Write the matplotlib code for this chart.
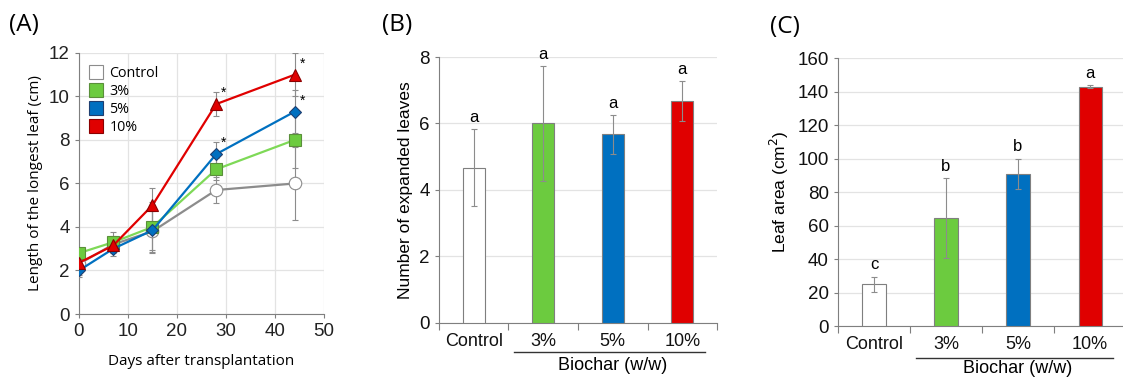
import matplotlib
matplotlib.use("Agg")
import matplotlib.pyplot as plt
from matplotlib.lines import Line2D
import numpy as np

# ---------------- data ----------------
days = [0, 7, 15, 28, 44]
series_names = ["Control", "3%", "5%", "10%"]
len_control = [2.3, 3.2, 3.8, 5.7, 6.0]
len_3 = [2.8, 3.3, 4.0, 6.65, 8.0]
len_5 = [2.0, 3.0, 3.85, 7.35, 9.3]
len_10 = [2.35, 3.15, 5.0, 9.65, 11.0]
err_control = [0.5, 0.4, 1.0, 0.6, 1.7]
err_3 = [0.2, 0.45, 1.15, 0.5, 1.3]
err_5 = [0.3, 0.35, 0.9, 0.55, 1.0]
err_10 = [0.2, 0.3, 0.8, 0.55, 1.0]
star_days = [28, 44, 28, 44]
star_vals = [9.65, 11.0, 7.35, 9.3]

categories = ["Control", "3%", "5%", "10%"]
leaves = [4.67, 6.0, 5.67, 6.67]
leaves_err = [1.15, 1.73, 0.6, 0.6]
leaves_letters = ["a", "a", "a", "a"]

area = [25.0, 64.5, 91.0, 142.8]
area_err = [4.5, 24.0, 9.0, 0.8]
area_letters = ["c", "b", "b", "a"]

# ---------------- styles ----------------
C_GREEN = "#6CCB3F"
C_BLUE = "#0070C0"
C_RED = "#E00000"
C_GRAY = "#8C8C8C"
bar_colors = ["white", C_GREEN, C_BLUE, C_RED]
SPINE = "#7F7F7F"
GRID = "#E3E3E3"
ARIAL = ["Liberation Sans", "DejaVu Sans"]
CAL = ["Open Sans", "DejaVu Sans"]

fig = plt.figure(figsize=(11.23, 3.79), dpi=100)

# ================= Panel A =================
axA = fig.add_axes([0.0703, 0.1715, 0.2182, 0.6887])
line_specs = [
    (len_control, err_control, C_GRAY, "o", "white", "#8C8C8C", 9),
    (len_3, err_3, "#7ED957", "s", C_GREEN, "#5A8F3A", 8.5),
    (len_5, err_5, C_BLUE, "D", C_BLUE, "#1F3F70", 6.5),
    (len_10, err_10, C_RED, "^", C_RED, "#8B0000", 8.5),
]
for vals, errs, lc, mk, mfc, mec, ms in line_specs:
    axA.errorbar(days, vals, yerr=errs, color=lc, lw=1.6, marker=mk, ms=ms,
                 mfc=mfc, mec=mec, mew=0.8, ecolor="#8C8C8C", elinewidth=0.8,
                 capsize=2, capthick=0.8, zorder=3)
for d, v in zip(star_days, star_vals):
    axA.text(d + 1.6, v + 0.2, "*", fontsize=10, ha="center", va="bottom",
             family=ARIAL, color="black")
axA.set_xlim(0, 50)
axA.set_ylim(0, 12)
axA.set_xticks(range(0, 51, 10))
axA.set_yticks(range(0, 13, 2))
axA.grid(True, color=GRID, lw=0.9)
axA.set_axisbelow(True)
for s in ["top", "right"]:
    axA.spines[s].set_visible(False)
for s in ["left", "bottom"]:
    axA.spines[s].set_color(SPINE)
axA.tick_params(axis="both", labelsize=13.5, colors="#222222", length=3,
                color=SPINE, direction="out")
for lab in axA.get_xticklabels() + axA.get_yticklabels():
    lab.set_family(ARIAL)
axA.set_xlabel("Days after transplantation", fontsize=11, family=CAL, labelpad=10)
axA.set_ylabel("Length of the longest leaf (cm)", fontsize=11, family=CAL, labelpad=4)
handles = [Line2D([], [], ls="none", marker="s", ms=10.5, mfc=fc, mec=ec, mew=0.8)
           for fc, ec in zip(bar_colors, ["#8C8C8C", "#5A8F3A", "#1F3F70", "#8B0000"])]
legA = axA.legend(handles, series_names, loc="upper left", frameon=False,
                  prop={"family": CAL, "size": 10.3}, handlelength=0.9,
                  handletextpad=0.45, labelspacing=0.22, borderaxespad=0.0,
                  borderpad=0.0, bbox_to_anchor=(0.045, 0.95))
fig.text(0.008, 0.935, "(A)", fontsize=17.5, family=CAL, va="center")

# ================= bar panels =================
def bar_panel(rect, vals, errs, letters, ylim, yticks, ylabel, letter_off,
              under_y, biochar_y, panel_label, panel_xy):
    ax = fig.add_axes(rect)
    x = np.arange(len(categories))
    ax.bar(x, vals, width=0.32, color=bar_colors, edgecolor="#7F7F7F", lw=0.8,
           zorder=3)
    ax.errorbar(x, vals, yerr=errs, fmt="none", ecolor="#8C8C8C",
                elinewidth=0.8, capsize=2, capthick=0.8, zorder=4)
    for xi, v, e, t in zip(x, vals, errs, letters):
        ax.text(xi, v + e + letter_off, t, ha="center", va="bottom",
                fontsize=12, family=ARIAL)
    ax.set_xlim(-0.5, 3.5)
    ax.set_ylim(*ylim)
    ax.set_yticks(yticks)
    ax.yaxis.grid(True, color=GRID, lw=0.9)
    ax.set_axisbelow(True)
    for s in ["top", "right"]:
        ax.spines[s].set_visible(False)
    for s in ["left", "bottom"]:
        ax.spines[s].set_color(SPINE)
    ax.set_xticks(np.arange(-0.5, 4.0, 1.0))
    ax.set_xticklabels([])
    ax.set_xticks(x, minor=True)
    ax.set_xticklabels(categories, minor=True)
    ax.tick_params(axis="x", which="major", length=5, color=SPINE)
    ax.tick_params(axis="x", which="minor", length=0, labelsize=13, pad=7)
    ax.tick_params(axis="y", labelsize=13.5, length=3, color=SPINE)
    for lab in ax.get_xticklabels(minor=True) + ax.get_yticklabels():
        lab.set_family(ARIAL)
        lab.set_color("#111111")
    ax.set_ylabel(ylabel, fontsize=12.5, family=ARIAL, labelpad=5)
    # Biochar underline and label
    ax.plot([0.58, 3.32], [under_y, under_y], transform=ax.get_xaxis_transform(),
            color="#333333", lw=1.0, clip_on=False)
    ax.text(2.0, biochar_y, "Biochar (w/w)", transform=ax.get_xaxis_transform(),
            ha="center", va="center", fontsize=13, family=ARIAL)
    fig.text(panel_xy[0], panel_xy[1], panel_label, fontsize=17.5, family=CAL,
             va="center")
    return ax

bar_panel([0.3909, 0.1478, 0.2476, 0.7018], leaves, leaves_err, leaves_letters,
          (0, 8), range(0, 9, 2), "Number of expanded leaves", 0.12,
          -0.108, -0.16, "(B)", (0.340, 0.935))
bar_panel([0.7462, 0.1398, 0.2565, 0.7071], area, area_err, area_letters,
          (0, 160), range(0, 161, 20), "Leaf area (cm$^2$)", 2.5,
          -0.12, -0.158, "(C)", (0.686, 0.93))

fig.savefig("out.png", dpi=100)
